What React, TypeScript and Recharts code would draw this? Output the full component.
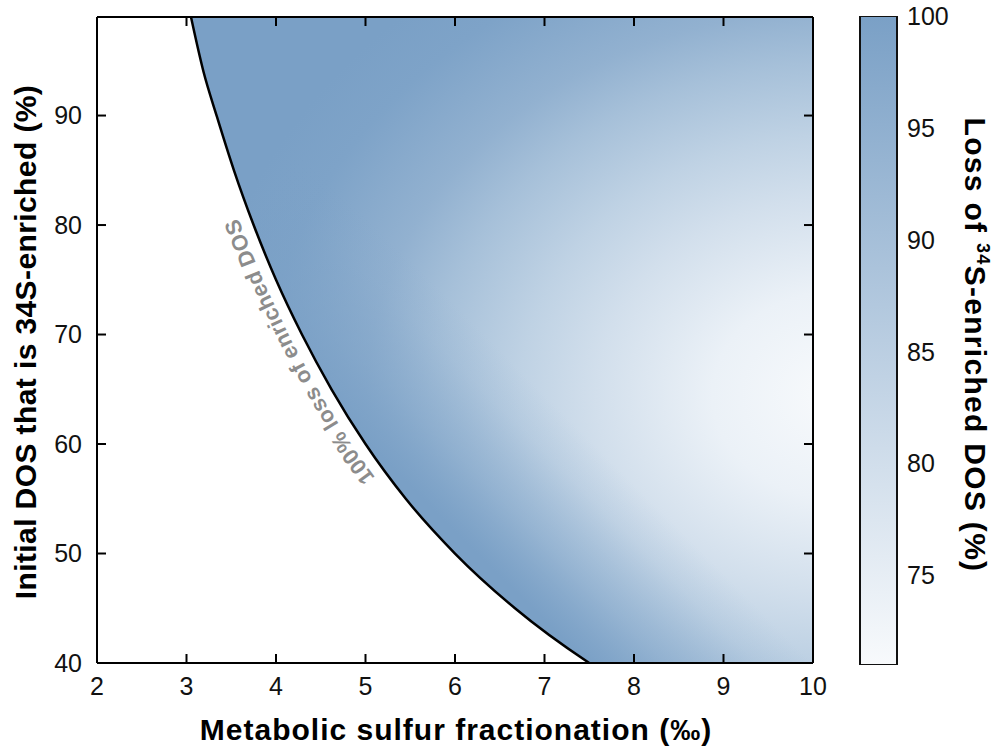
import { Area, Bar, BarChart, ComposedChart, Customized, Line, ReferenceLine, XAxis, YAxis } from 'recharts'

const FONT = '"Liberation Sans", Arial, Helvetica, sans-serif'

// values
const xTicks = [2, 3, 4, 5, 6, 7, 8, 9, 10]
const yTicks = [40, 50, 60, 70, 80, 90]
const barTicks = [75, 80, 85, 90, 95, 100]
const curveX = [3.05, 3.19, 3.34, 3.53, 3.75, 4.0, 4.29, 4.62, 5.0, 5.45, 6.0, 6.67, 7.5, 8.5, 10]
const curveY = [99, 94, 89.9, 85, 80, 75, 70, 65, 60, 55, 50, 45, 40, 35.3, 30]
const lossRange = [71, 100]
const yTop = 99

const rows = curveX.map((x, i) => ({ x, band: [curveY[i], yTop], edge: curveY[i] }))
const barRows = [{ name: 'loss', range: lossRange }]

const DARK = [122, 160, 198]
const LIGHT = [248, 250, 252]
const mix = (t: number) => {
  const c = DARK.map((d, i) => Math.round(LIGHT[i] + (d - LIGHT[i]) * t))
  return `rgb(${c[0]},${c[1]},${c[2]})`
}
const shadeStops = [
  [0, 0], [0.2, 0.1], [0.38, 0.3], [0.5, 0.45], [0.64, 0.65], [0.74, 0.81], [0.9, 0.97], [1, 1],
]

const PLOT = { left: 97, top: 17, width: 716, height: 646 }
const toPx = (x: number) => PLOT.left + ((x - 2) / 8) * PLOT.width
const toPy = (y: number) => PLOT.top + ((yTop - y) / (yTop - 40)) * PLOT.height
// inward tick length (9px) in data units
const TICK_PX = 9
const tickDx = (TICK_PX / PLOT.width) * 8
const tickDy = (TICK_PX / PLOT.height) * (yTop - 40)
const BAR_W = 37
const barTickDx = 11 / BAR_W

function labelPath() {
  const pts = curveX.slice(0, 11).map((x, i) => [toPx(x), toPy(curveY[i])]).reverse()
  const gap = 12
  const out = pts.map((p, i) => {
    const a = pts[Math.max(i - 1, 0)]
    const b = pts[Math.min(i + 1, pts.length - 1)]
    const tx = b[0] - a[0]
    const ty = b[1] - a[1]
    const len = Math.hypot(tx, ty)
    return [p[0] + (ty / len) * gap, p[1] - (tx / len) * gap]
  })
  return out.map((p, i) => `${i ? 'L' : 'M'}${p[0].toFixed(1)},${p[1].toFixed(1)}`).join(' ')
}

function MainText() {
  return (
    <g fontFamily={FONT}>
      <path id='curveLabelPath' d={labelPath()} fill='none' />
      <text fontSize={22} fontWeight='bold' fill='#8c8c8c' letterSpacing={0.4}>
        <textPath href='#curveLabelPath' startOffset={110}>
          100% loss of enriched DOS
        </textPath>
      </text>
      <text x={456} y={740} textAnchor='middle' fontSize={30} fontWeight='bold' fill='#000' letterSpacing={1}>
        Metabolic sulfur fractionation (‰)
      </text>
      <text transform='translate(36,342) rotate(-90)' textAnchor='middle' fontSize={30} fontWeight='bold'
        fill='#000' letterSpacing={0.4}>
        Initial DOS that is 34S-enriched (%)
      </text>
    </g>
  )
}

function BarText() {
  return (
    <text transform='translate(145,345) rotate(90)' textAnchor='middle' fontSize={30} fontWeight='bold'
      fill='#000' fontFamily={FONT} letterSpacing={1.3}>
      Loss of <tspan fontSize={18} dy={-12}>34</tspan>
      <tspan dy={12}>S-enriched DOS (%)</tspan>
    </text>
  )
}

const frame = { stroke: '#000', strokeWidth: 2 }
const tickFont = { fontSize: 25, fill: '#111', fontFamily: FONT }
const innerX = xTicks.slice(1, -1)
const innerY = yTicks.slice(1)

export default function App() {
  return (
    <div style={{ position: 'absolute', left: 0, top: 0, width: 992, height: 747, background: '#fff' }}>
      {/* heat field, boundary curve and labels */}
      <div style={{ position: 'absolute', left: 0, top: 0 }}>
        <ComposedChart width={850} height={747} data={rows} margin={{ top: 7, right: 27, bottom: 44, left: 37 }}>
          <defs>
            <radialGradient id='lossFill' gradientUnits='userSpaceOnUse' cx={0} cy={0} r={1}
              gradientTransform='translate(840,395) scale(640,520)'>
              {shadeStops.map(([o, t]) => (
                <stop key={o} offset={o} stopColor={mix(t)} />
              ))}
            </radialGradient>
            <linearGradient id='edgeShade' gradientUnits='userSpaceOnUse' x1={477} y1={553} x2={590} y2={440}>
              <stop offset={0} stopColor={mix(1)} stopOpacity={1} />
              <stop offset={0.35} stopColor={mix(1)} stopOpacity={0.55} />
              <stop offset={0.75} stopColor={mix(1)} stopOpacity={0.15} />
              <stop offset={1} stopColor={mix(1)} stopOpacity={0} />
            </linearGradient>
          </defs>
          <XAxis xAxisId='b' dataKey='x' type='number' domain={[2, 10]} ticks={xTicks} orientation='bottom'
            height={40} tickSize={-9} tickMargin={23} axisLine={false} tickLine={false} tick={tickFont} allowDataOverflow />
          <YAxis yAxisId='l' type='number' domain={[40, yTop]} ticks={yTicks} width={60}
            tickSize={-9} tickMargin={24} axisLine={false} tickLine={false} tick={tickFont} allowDataOverflow />
          <XAxis xAxisId='t' dataKey='x' type='number' domain={[2, 10]} orientation='top' height={10}
            axisLine={false} tickLine={false} tick={false} allowDataOverflow />
          <YAxis yAxisId='r' orientation='right' type='number' domain={[40, yTop]} width={10}
            axisLine={false} tickLine={false} tick={false} allowDataOverflow />
          <Area xAxisId='b' yAxisId='l' type='monotone' dataKey='band' fill='url(#lossFill)' fillOpacity={1}
            stroke='none' isAnimationActive={false} />
          <Area xAxisId='b' yAxisId='l' type='monotone' dataKey='band' fill='url(#edgeShade)' fillOpacity={1}
            stroke='none' isAnimationActive={false} />
          <Line xAxisId='b' yAxisId='l' type='monotone' dataKey='edge' stroke='#000' strokeWidth={2.5}
            dot={false} activeDot={false} isAnimationActive={false} />
          <Customized component={<MainText />} />
        </ComposedChart>
      </div>
      {/* frame with inward ticks, drawn over the field */}
      <div style={{ position: 'absolute', left: 0, top: 0 }}>
        <ComposedChart width={850} height={747} data={rows} margin={{ top: 17, right: 37, bottom: 84, left: 97 }}>
          <XAxis xAxisId='b' dataKey='x' type='number' domain={[2, 10]} ticks={xTicks} orientation='bottom' mirror
            axisLine={frame} tickLine={false} tick={false} allowDataOverflow />
          <XAxis xAxisId='t' dataKey='x' type='number' domain={[2, 10]} ticks={xTicks} orientation='top' mirror
            axisLine={frame} tickLine={false} tick={false} allowDataOverflow />
          <YAxis yAxisId='l' type='number' domain={[40, yTop]} ticks={yTicks} mirror
            axisLine={frame} tickLine={false} tick={false} allowDataOverflow />
          <YAxis yAxisId='r' orientation='right' type='number' domain={[40, yTop]} ticks={yTicks} mirror
            axisLine={frame} tickLine={false} tick={false} allowDataOverflow />
          {innerX.map((t) => (
            <ReferenceLine key={`b${t}`} xAxisId='b' yAxisId='l' ifOverflow='visible' stroke='#000' strokeWidth={2}
              segment={[{ x: t, y: 40 }, { x: t, y: 40 + tickDy }]} />
          ))}
          {innerX.map((t) => (
            <ReferenceLine key={`t${t}`} xAxisId='b' yAxisId='l' ifOverflow='visible' stroke='#000' strokeWidth={2}
              segment={[{ x: t, y: yTop }, { x: t, y: yTop - tickDy }]} />
          ))}
          {innerY.map((t) => (
            <ReferenceLine key={`l${t}`} xAxisId='b' yAxisId='l' ifOverflow='visible' stroke='#000' strokeWidth={2}
              segment={[{ x: 2, y: t }, { x: 2 + tickDx, y: t }]} />
          ))}
          {innerY.map((t) => (
            <ReferenceLine key={`r${t}`} xAxisId='b' yAxisId='l' ifOverflow='visible' stroke='#000' strokeWidth={2}
              segment={[{ x: 10, y: t }, { x: 10 - tickDx, y: t }]} />
          ))}
        </ComposedChart>
      </div>
      {/* colour bar */}
      <div style={{ position: 'absolute', left: 820, top: 0 }}>
        <BarChart width={172} height={747} data={barRows} margin={{ top: 16, right: 35, bottom: 82, left: 40 }}
          barCategoryGap={0} barGap={0}>
          <defs>
            <linearGradient id='barFill' x1={0} y1={0} x2={0} y2={1}>
              <stop offset={0} stopColor={mix(1)} />
              <stop offset={1} stopColor={mix(0)} />
            </linearGradient>
          </defs>
          <XAxis dataKey='name' hide />
          <YAxis orientation='right' type='number' domain={lossRange} ticks={barTicks} width={60}
            tickSize={-11} tickMargin={21} axisLine={false} tickLine={false} tick={tickFont} allowDataOverflow />
          <Bar dataKey='range' fill='url(#barFill)' stroke='#111' strokeWidth={2} isAnimationActive={false} />
          <Customized component={<BarText />} />
        </BarChart>
      </div>
      <div style={{ position: 'absolute', left: 820, top: 0 }}>
        <ComposedChart width={172} height={747} data={barRows} margin={{ top: 16, right: 95, bottom: 82, left: 40 }}>
          <XAxis xAxisId='c' type='number' domain={[0, 1]} hide allowDataOverflow />
          <YAxis yAxisId='c' type='number' domain={lossRange} hide allowDataOverflow />
          {barTicks.slice(0, 5).map((t) => (
            <ReferenceLine key={`c${t}`} xAxisId='c' yAxisId='c' ifOverflow='visible' stroke='#000' strokeWidth={2}
              segment={[{ x: 1 - barTickDx, y: t }, { x: 1, y: t }]} />
          ))}
        </ComposedChart>
      </div>
    </div>
  )
}
